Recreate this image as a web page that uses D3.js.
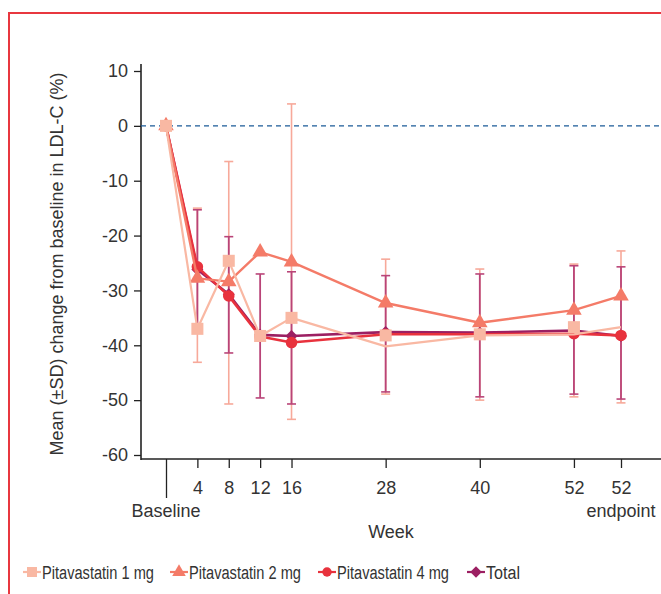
<!DOCTYPE html>
<html><head><meta charset="utf-8">
<script src="https://cdn.jsdelivr.net/npm/d3@7"></script>
<style>
html,body{margin:0;padding:0;background:#fff;}
svg{display:block;}
text{font-family:"Liberation Sans",Arial,sans-serif;fill:#333;}
</style></head><body>
<svg id="c" width="661" height="594"></svg>
<script>
// ---- data ----
const weeks = [0, 4, 8, 12, 16, 28, 40, 52, 58];           // 58 = position of "52 endpoint"
const tickLabels = ["", "4", "8", "12", "16", "28", "40", "52", "52"];
const seriesNames = ["Pitavastatin 1 mg", "Pitavastatin 2 mg", "Pitavastatin 4 mg", "Total"];
const mg1   = [0, -37.0, -24.6, -38.3, -35.0, -40.2, -38.2, -38.0, -36.7];
const mg2   = [0, -27.8, -28.4, -23.0, -24.8, -32.3, -35.9, -33.6, -31.0];
const mg4   = [0, -25.7, -31.0, -38.4, -39.5, -38.0, -38.0, -37.9, -38.2];
const total = [0, -26.2, -30.7, -38.1, -38.3, -37.6, -37.7, -37.3, -38.3];
// error bars (upper / lower ends of ±SD) as drawn
const lightHigh = [null, -15.0, -6.5, null, 4.0, -24.3, -26.1, -25.2, -22.8];
const lightLow  = [null, -43.1, -50.7, null, -53.5, -48.9, -50.0, -49.4, -50.5];
const totalHigh = [null, -15.3, -20.2, -27.0, -26.6, -27.3, -27.0, -25.5, -25.7];
const totalLow  = [null, -37.0, -41.4, -49.6, -50.7, -48.5, -49.4, -48.9, -49.8];
const yTicks = [10, 0, -10, -20, -30, -40, -50, -60];

// ---- drawing ----
const svg = d3.select("#c");
const col = {mg1:"#f9b8a3", mg2:"#f47b68", mg4:"#e8323d", total:"#9c1f62"};

// frame
svg.append("rect").attr("x",9).attr("y",13).attr("width",720).attr("height",700)
  .attr("fill","none").attr("stroke","#e8373f").attr("stroke-width",2);

const x = d3.scaleLinear().domain([0,58]).range([166,621]);
const y = d3.scaleLinear().domain([-60,10]).range([455,71]);

// y axis
const yAxis = svg.append("g").attr("transform","translate(141,0)")
  .call(d3.axisLeft(y).tickValues(yTicks).tickFormat(d=>String(d)).tickSize(7).tickPadding(6).tickSizeOuter(0));
yAxis.select(".domain").remove();
yAxis.append("line").attr("x1",0).attr("x2",0).attr("y1",64).attr("y2",460).attr("stroke","#222").attr("stroke-width",1.6);
yAxis.selectAll(".tick line").attr("stroke","#222").attr("stroke-width",1.3);
yAxis.selectAll(".tick text").attr("font-size",18).attr("fill","#333").attr("font-family","Liberation Sans, Arial, sans-serif");

// x axis
const xAxis = svg.append("g").attr("transform","translate(0,459)")
  .call(d3.axisBottom(x).tickValues(weeks).tickFormat((d,i)=>tickLabels[i]).tickSize(9).tickPadding(13).tickSizeOuter(0));
xAxis.select(".domain").remove();
xAxis.append("line").attr("x1",141).attr("x2",661).attr("y1",0).attr("y2",0).attr("stroke","#222").attr("stroke-width",1.6);
xAxis.selectAll(".tick line").attr("stroke","#222").attr("stroke-width",1.3)
  .attr("y2",(d)=> d===0 ? 39 : 9);
xAxis.selectAll(".tick text").attr("font-size",18).attr("fill","#333").attr("font-family","Liberation Sans, Arial, sans-serif");

svg.append("text").attr("x",x(0)).attr("y",517).attr("text-anchor","middle").attr("font-size",18).text("Baseline");
svg.append("text").attr("x",x(58)).attr("y",517).attr("text-anchor","middle").attr("font-size",18).text("endpoint");
svg.append("text").attr("x",391).attr("y",538).attr("text-anchor","middle").attr("font-size",18).text("Week");
svg.append("text").attr("transform","translate(63,264) rotate(-90)").attr("text-anchor","middle")
  .attr("font-size",18).text("Mean (±SD) change from baseline in LDL-C (%)");

// zero reference line
svg.append("line").attr("x1",141).attr("x2",661).attr("y1",y(0)).attr("y2",y(0))
  .attr("stroke","#1b5b98").attr("stroke-width",1.3).attr("stroke-dasharray","5,4");

// error bars
function errBars(hi, lo, color, width){
  const g = svg.append("g");
  weeks.forEach((w,i)=>{
    if(hi[i]===null) return;
    const xx = x(w);
    g.append("line").attr("x1",xx).attr("x2",xx).attr("y1",y(hi[i])).attr("y2",y(lo[i]))
      .attr("stroke",color).attr("stroke-width",width);
    [hi[i],lo[i]].forEach(v=>{
      g.append("line").attr("x1",xx-4.5).attr("x2",xx+4.5).attr("y1",y(v)).attr("y2",y(v))
        .attr("stroke",color).attr("stroke-width",1.6);
    });
  });
}
errBars(lightHigh, lightLow, "#f7a99a", 1.6);
errBars(totalHigh, totalLow, "#b94478", 1.8);

// lines + markers
const line = d3.line().x((d,i)=>x(weeks[i])).y(d=>y(d));
function series(vals, color, width, symType, size, skip){
  svg.append("path").datum(vals).attr("d",line).attr("fill","none")
    .attr("stroke",color).attr("stroke-width",width).attr("stroke-linejoin","round");
  const sym = d3.symbol().type(symType).size(size);
  svg.append("g").selectAll("path").data(vals).join("path")
    .filter((d,i)=>!(skip||[]).includes(i))
    .attr("transform",(d,i)=>`translate(${x(weeks[i])},${y(d)})`)
    .attr("d",sym).attr("fill",color);
}
const diamond = {draw(ctx,size){const r=Math.sqrt(size)/2*1.1;ctx.moveTo(0,-r);ctx.lineTo(r,0);ctx.lineTo(0,r);ctx.lineTo(-r,0);ctx.closePath();}};
series(total, col.total, 2.6, diamond, 120);
series(mg4, col.mg4, 2.6, d3.symbolCircle, 105);
series(mg2, col.mg2, 2.4, d3.symbolTriangle, 105);
series(mg1, col.mg1, 2.2, d3.symbolSquare, 145, [5]);

// legend
const legendX = [23, 170, 318, 467];
const legendSym = [d3.symbolSquare, d3.symbolTriangle, d3.symbolCircle, diamond];
const legendSize = [100, 80, 70, 110];
const legendCol = [col.mg1, col.mg2, col.mg4, col.total];
const legendW = [112, 112, 112, 34];
seriesNames.forEach((n,i)=>{
  const g = svg.append("g").attr("transform",`translate(${legendX[i]},572)`);
  g.append("line").attr("x1",0).attr("x2",18).attr("stroke",legendCol[i]).attr("stroke-width",2.2);
  g.append("path").attr("transform","translate(9,0)").attr("d",d3.symbol().type(legendSym[i]).size(legendSize[i])()).attr("fill",legendCol[i]);
  g.append("text").attr("x",19).attr("y",6.5).attr("font-size",18)
    .attr("textLength",legendW[i]).attr("lengthAdjust","spacingAndGlyphs").text(n);
});
</script>
</body></html>
